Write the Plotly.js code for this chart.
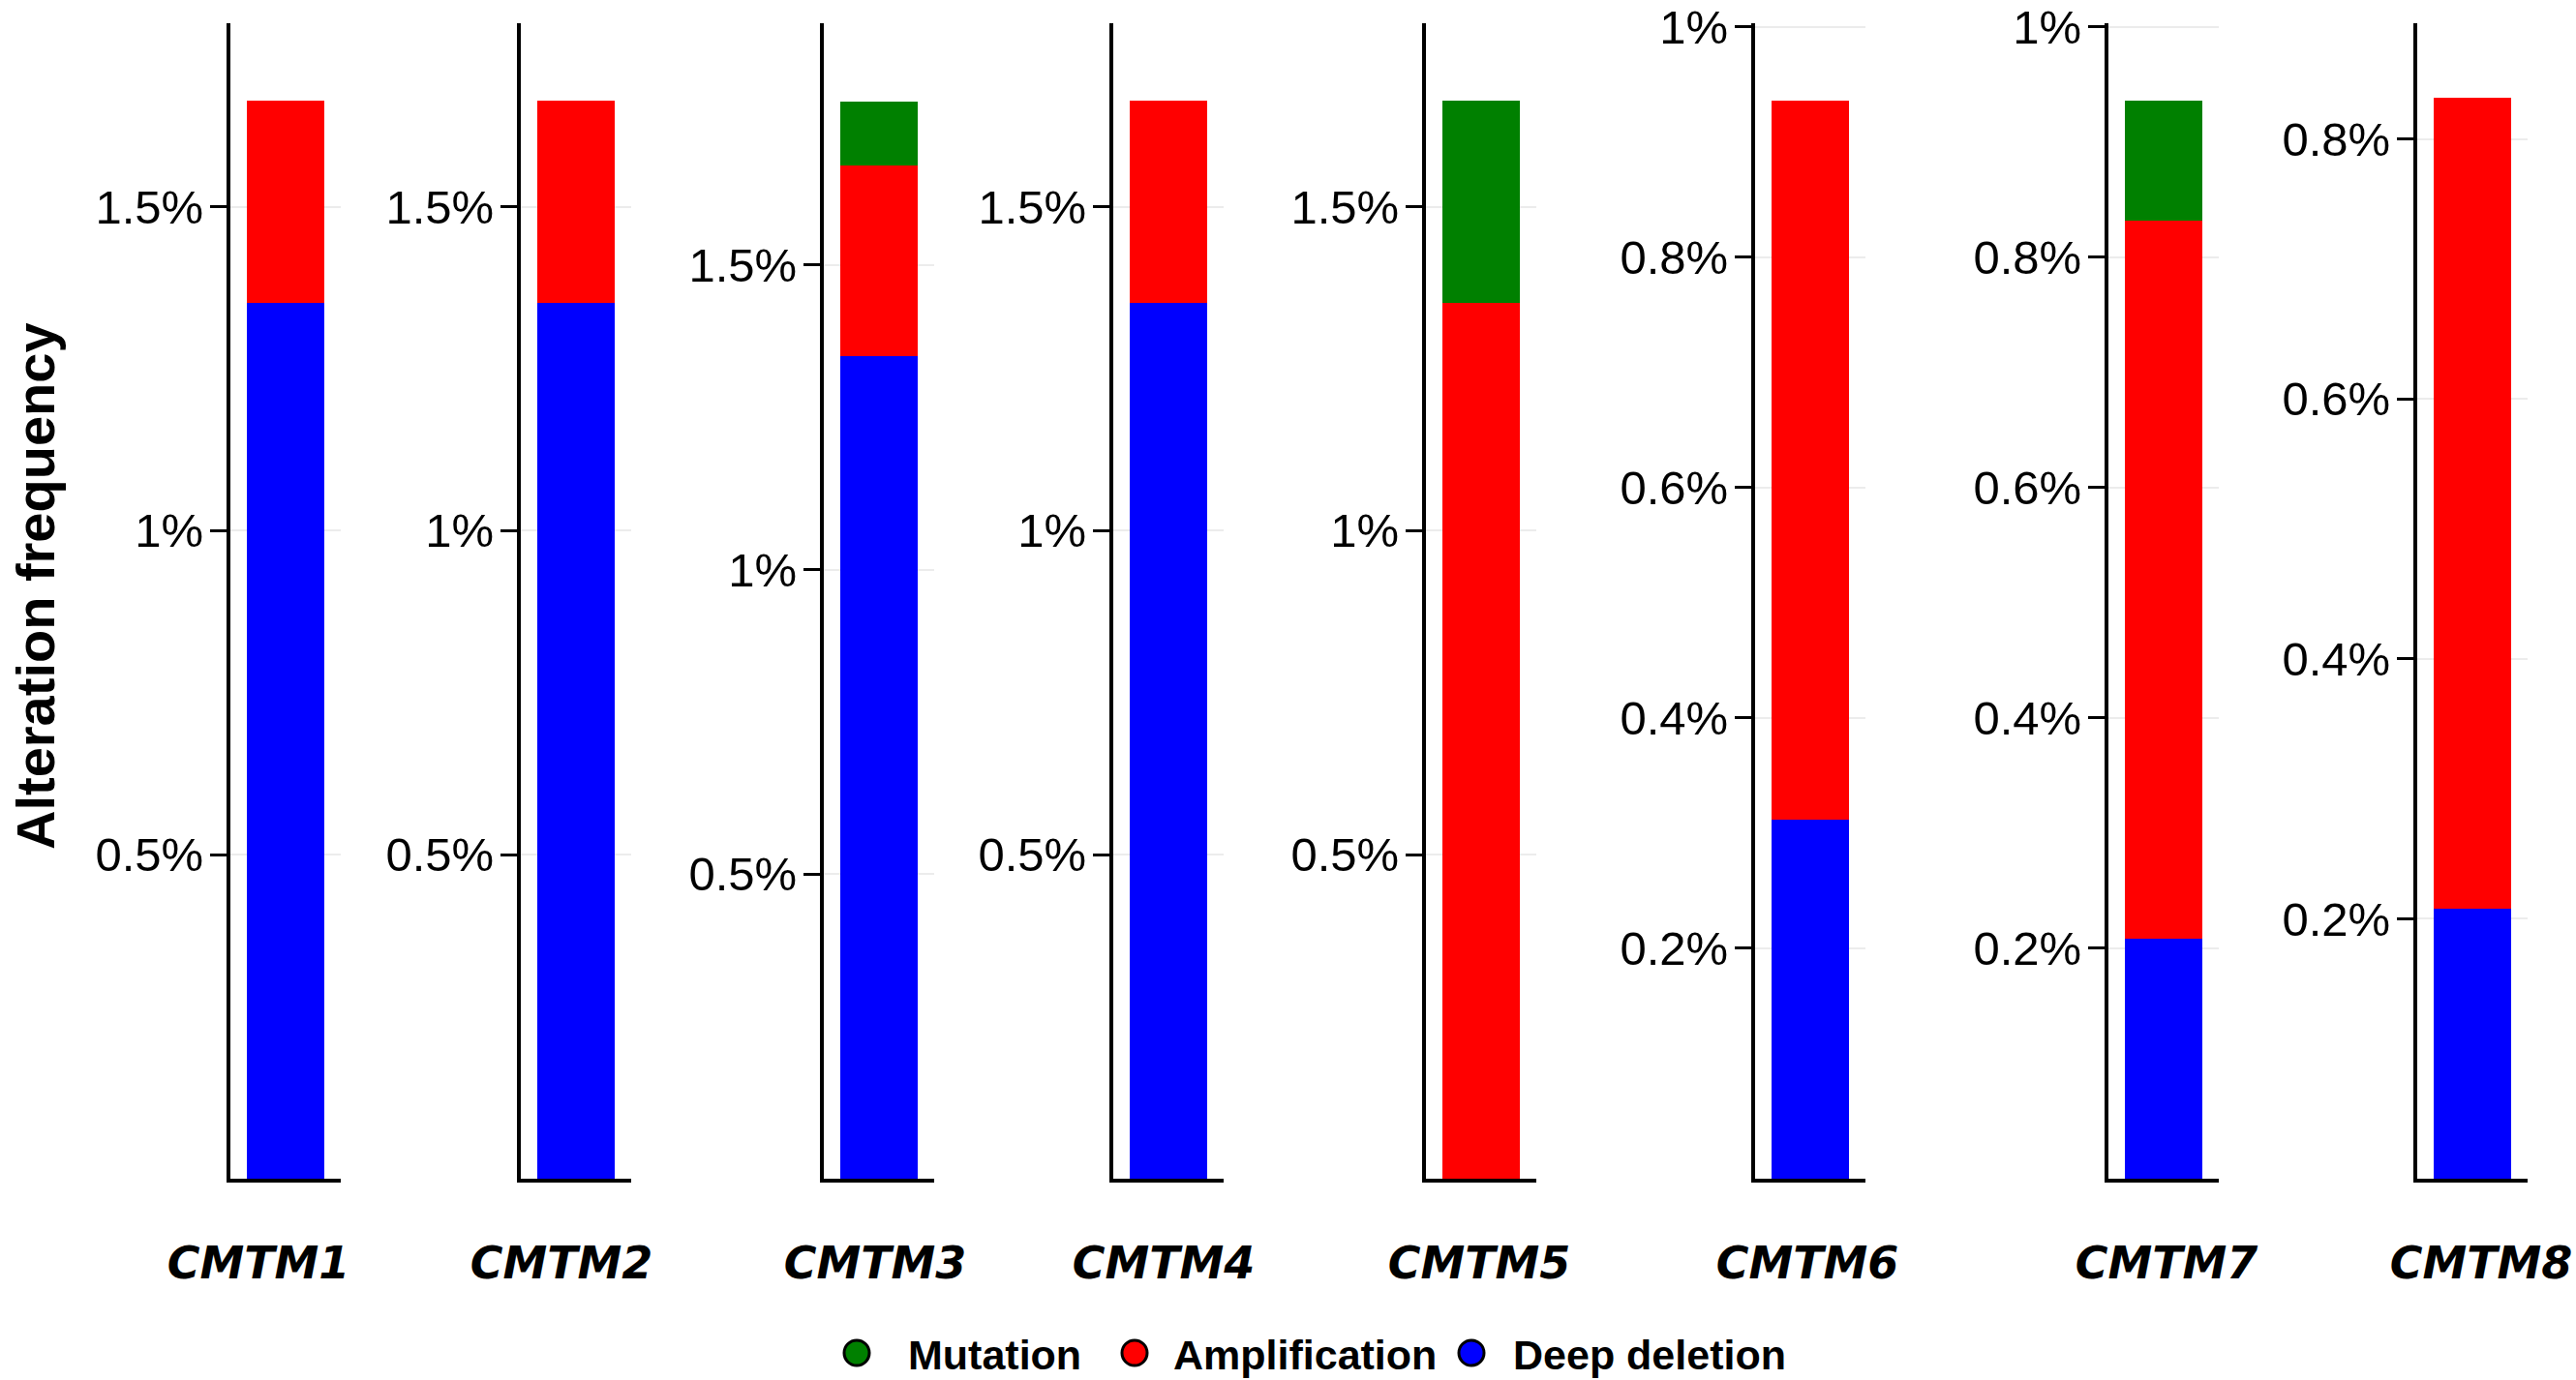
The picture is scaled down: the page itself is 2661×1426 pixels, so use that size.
<!DOCTYPE html>
<html>
<head>
<meta charset="utf-8">
<script src="https://cdn.plot.ly/plotly-3.0.1.min.js"></script>
<style>body{margin:0;background:#fff}</style>
</head>
<body>
<div id="chart" style="width:2661px;height:1426px"></div>
<script>
// values, in percent
var genes = ['CMTM1', 'CMTM2', 'CMTM3', 'CMTM4', 'CMTM5', 'CMTM6', 'CMTM7', 'CMTM8'];
var deepDeletion  = [1.351, 1.351, 1.351, 1.351, 0,     0.312, 0.208, 0.208];
var amplification = [0.312, 0.312, 0.313, 0.312, 1.351, 0.624, 0.624, 0.624];
var mutation      = [0,     0,     0.104, 0,     0.312, 0,     0.104, 0];
var seriesNames = ['Mutation', 'Amplification', 'Deep deletion'];
var seriesColors = ['#008000', '#ff0000', '#0000ff'];
var ticksBig = [0.5, 1, 1.5];
var ticksBigText = ['0.5%', '1%', '1.5%'];
var ticksSmall = [0.2, 0.4, 0.6, 0.8, 1];
var ticksSmallText = ['0.2%', '0.4%', '0.6%', '0.8%', '1%'];
var yTop = [1.783, 1.783, 1.897, 1.783, 1.783, 1.003, 1.003, 0.889];

var W = 2661, H = 1426;
var axisLeft = [238, 538, 851, 1150, 1473, 1813, 2178, 2497];
var panelW = 114;
var plotTop = 24, plotBottom = 1218;
var labelShift = [-28, -15, -4, -5, -2, -3, 3, 9];

function px(x) { return x / W; }
function py(y) { return 1 - y / H; }

var data = [];
var layout = {
  width: W, height: H,
  margin: {l: 0, r: 0, t: 0, b: 0, pad: 0},
  paper_bgcolor: '#fff', plot_bgcolor: '#fff',
  barmode: 'stack', bargap: 0.3,
  showlegend: false,
  font: {family: 'Liberation Sans, Arial, sans-serif', color: '#000'},
  annotations: [], shapes: []
};

genes.forEach(function(g, i) {
  var n = i === 0 ? '' : String(i + 1);
  var stack = [deepDeletion, amplification, mutation];
  var names = [seriesNames[2], seriesNames[1], seriesNames[0]];
  var cols = [seriesColors[2], seriesColors[1], seriesColors[0]];
  stack.forEach(function(vals, k) {
    data.push({
      type: 'bar', x: [g], y: [vals[i]], name: names[k],
      marker: {color: cols[k], line: {width: 0}},
      xaxis: 'x' + n, yaxis: 'y' + n, hoverinfo: 'skip'
    });
  });
  var small = yTop[i] < 1.5;
  layout['xaxis' + n] = {
    domain: [px(axisLeft[i]), px(axisLeft[i] + panelW)],
    anchor: 'y' + n, type: 'category', range: [-0.5, 0.5],
    showline: true, linecolor: '#000', linewidth: 4,
    ticks: '', showgrid: false, zeroline: false,
    ticklabelstandoff: 44, ticklabelshift: labelShift[i],
    tickfont: {family: 'DejaVu Sans', size: 46, weight: 'bold', style: 'italic', color: '#000'}
  };
  layout['yaxis' + n] = {
    domain: [py(plotBottom), py(plotTop)],
    anchor: 'x' + n, range: [0, yTop[i]],
    tickmode: 'array',
    tickvals: small ? ticksSmall : ticksBig,
    ticktext: small ? ticksSmallText : ticksBigText,
    ticks: 'outside', ticklen: 17, tickwidth: 3, tickcolor: '#000',
    ticklabelstandoff: -3, ticklabeloverflow: 'allow',
    showline: true, linecolor: '#000', linewidth: 4,
    showgrid: true, gridcolor: '#ececec', gridwidth: 2, zeroline: false,
    tickfont: {family: 'Liberation Sans', size: 49, color: '#000'}
  };
});

layout.annotations.push({
  text: 'Alteration frequency', xref: 'paper', yref: 'paper',
  x: px(36), y: py(606), xanchor: 'center', yanchor: 'middle',
  textangle: -90, showarrow: false,
  font: {family: 'Liberation Sans', size: 56, weight: 'bold', color: '#000'}
});

// legend drawn by hand so the dots can be as large as in the figure
var legendDot = [885, 1172, 1520];
var legendText = [936, 1210, 1561];
seriesNames.forEach(function(s, k) {
  layout.shapes.push({
    type: 'circle', xref: 'paper', yref: 'paper',
    xsizemode: 'pixel', ysizemode: 'pixel',
    xanchor: px(legendDot[k]), yanchor: py(1398),
    x0: -13, x1: 13, y0: -13, y1: 13,
    fillcolor: seriesColors[k], line: {color: '#000', width: 3}
  });
  layout.annotations.push({
    text: s, xref: 'paper', yref: 'paper',
    x: px(legendText[k]), y: py(1400), xanchor: 'left', yanchor: 'middle',
    showarrow: false,
    font: {family: 'Liberation Sans', size: 43, weight: 'bold', color: '#000'}
  });
});

Plotly.newPlot('chart', data, layout, {displayModeBar: false, staticPlot: true});
</script>
</body>
</html>
